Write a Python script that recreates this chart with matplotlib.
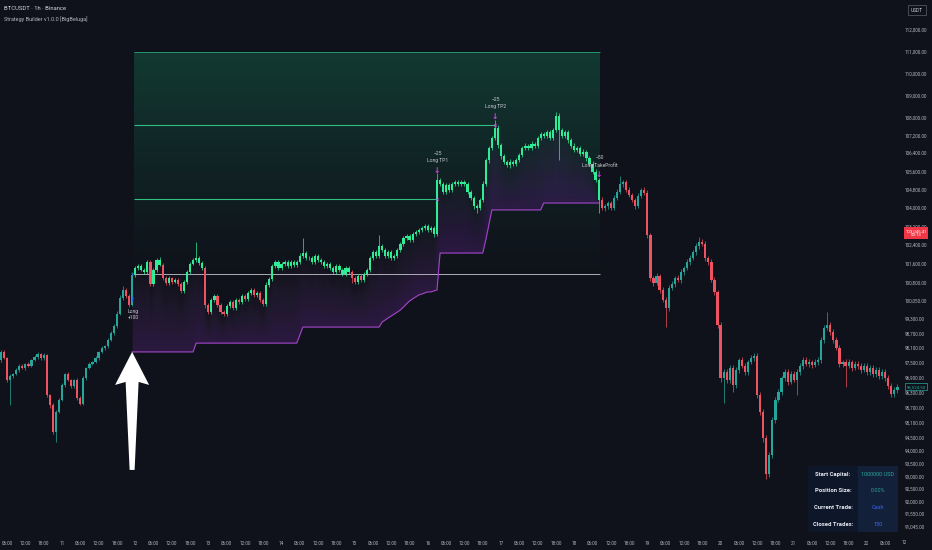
import numpy as np
import matplotlib
matplotlib.use('Agg')
import matplotlib.pyplot as plt
import matplotlib.transforms as mtransforms
from matplotlib.patches import Polygon, Rectangle
from matplotlib.ticker import NullLocator

plt.rcParams['font.family'] = ['Roboto', 'DejaVu Sans']

# BTCUSDT 1h, hours counted from day 10 00:00, first bar = 04:00
first_hour = 4
first_open = 97610
closes = [
    97940, 97690, 96800, 96960, 97040, 97210, 97370, 97290, 97450, 97370,
    97610, 97730, 97860, 97690, 97810, 96200, 95800, 94730, 95520, 96000,
    96600, 97040, 96800, 96560, 96800, 96080, 95840, 96880, 97290, 97450,
    97530, 97690, 97940, 98100, 98180, 98430, 98720, 99010, 99500, 100170,
    100500, 100250, 99880, 101130, 101430, 101510, 101340, 101260, 101680, 100750,
    101340, 101770, 101550, 101000, 100790, 101000, 100840, 100920, 100750, 100460,
    100840, 101260, 101600, 101770, 101850, 101640, 101430, 99880, 99580, 100080,
    100250, 99880, 99580, 99500, 99830, 100000, 99750, 100080, 100000, 100250,
    100130, 100380, 100500, 100290, 100380, 100080, 99920, 100710, 100960, 101510,
    101680, 101430, 101600, 101680, 101510, 101680, 101550, 101680, 101940, 102060,
    101850, 101850, 101680, 101940, 101770, 101680, 101510, 101600, 101430, 101260,
    101510, 101340, 101170, 101430, 101260, 101000, 100840, 101090, 100920, 101170,
    101340, 101850, 102100, 101940, 102360, 102190, 101940, 102100, 101850, 101940,
    102190, 102450, 102700, 102790, 102620, 102870, 102960, 103050, 103130, 103220,
    103050, 103130, 102870, 105210, 105040, 104690, 105000, 104780, 105040, 105130,
    105040, 105130, 105040, 104690, 104430, 104080, 103990, 104340, 105040, 106090,
    106630, 107070, 107520, 106760, 106270, 106010, 105870, 106010, 105920, 106090,
    106320, 106630, 106720, 106630, 106800, 106720, 107070, 107250, 107160, 107340,
    107070, 107430, 108060, 107430, 107160, 107340, 106980, 106720, 106540, 106630,
    106360, 106450, 106180, 105920, 105570, 105210, 104340, 103990, 104080, 104210,
    103990, 104430, 104690, 105040, 105130, 104780, 104560, 104340, 104080, 104520,
    104780, 104650, 102830, 101000, 100790, 101090, 100500, 100080, 99750, 100590,
    100750, 101000, 100920, 101260, 101430, 101680, 101850, 102100, 102360, 102530,
    102450, 101850, 101680, 100920, 100420, 99050, 96880, 97130, 96800, 97290,
    96600, 97210, 97610, 97370, 97130, 97530, 97690, 97770, 96200, 95520,
    94490, 93080, 93820, 95200, 96000, 96320, 96880, 97130, 96720, 97040,
    96800, 97130, 97370, 97610, 97450, 97530, 97410, 97530, 97610, 98430,
    98920, 99050, 98760, 98430, 98100, 97450, 97530, 97370, 97530, 97290,
    97450, 97370, 97210, 97370, 97130, 97290, 97040, 97210, 96960, 97130,
    96880, 96560, 96240, 96400, 96520,
]
upper_wick = [
    60, 80, 40, 90, 50, 70, 60, 80, 50, 60,
    50, 70, 60, 40, 80, 60, 50, 90, 70, 60,
    80, 60, 70, 50, 60, 90, 60, 80, 50, 70,
    60, 70, 50, 80, 60, 70, 90, 60, 120, 100,
    150, 80, 70, 120, 90, 80, 100, 70, 90, 100,
    80, 100, 120, 70, 80, 90, 60, 80, 70, 90,
    70, 90, 80, 100, 680, 90, 80, 100, 70, 90,
    80, 70, 90, 100, 80, 70, 90, 80, 100, 70,
    80, 90, 70, 100, 80, 90, 70, 120, 80, 100,
    90, 80, 70, 100, 80, 90, 70, 80, 120, 640,
    90, 80, 100, 70, 90, 80, 100, 70, 90, 80,
    80, 90, 70, 100, 80, 90, 70, 80, 90, 70,
    90, 80, 100, 70, 470, 90, 80, 100, 90, 80,
    90, 100, 80, 90, 100, 80, 90, 100, 80, 90,
    100, 90, 100, 310, 100, 90, 80, 100, 90, 100,
    90, 100, 80, 90, 100, 90, 80, 100, 120, 110,
    100, 110, 360, 120, 100, 90, 100, 110, 90, 100,
    100, 90, 110, 100, 120, 90, 100, 110, 100, 90,
    110, 100, 180, 120, 100, 110, 100, 90, 110, 100,
    100, 110, 100, 90, 110, 120, 100, 110, 100, 90,
    100, 110, 120, 350, 100, 90, 110, 100, 90, 110,
    100, 120, 110, 100, 90, 110, 100, 120, 110, 100,
    110, 100, 120, 110, 100, 110, 120, 100, 110, 210,
    120, 110, 100, 120, 110, 100, 120, 110, 130, 120,
    110, 120, 100, 110, 120, 100, 110, 120, 110, 100,
    120, 110, 130, 120, 110, 120, 100, 110, 120, 110,
    110, 120, 100, 110, 120, 110, 100, 120, 110, 120,
    120, 540, 110, 100, 120, 110, 100, 120, 110, 100,
    110, 100, 120, 110, 100, 120, 110, 100, 120, 110,
    110, 120, 100, 110, 120,
]
lower_wick = [
    80, 50, 60, 1000, 70, 50, 90, 60, 70, 50,
    60, 50, 80, 60, 70, 90, 120, 80, 400, 60,
    60, 80, 50, 70, 90, 100, 60, 50, 70, 60,
    50, 60, 70, 50, 80, 60, 50, 70, 90, 60,
    90, 80, 100, 60, 70, 80, 60, 90, 70, 80,
    70, 80, 60, 90, 70, 80, 90, 60, 100, 80,
    80, 70, 90, 60, 70, 80, 100, 120, 90, 80,
    90, 100, 80, 70, 90, 80, 100, 70, 80, 90,
    70, 80, 90, 70, 80, 100, 80, 90, 70, 80,
    80, 70, 90, 80, 70, 90, 80, 70, 80, 90,
    80, 90, 70, 100, 80, 90, 70, 80, 100, 90,
    90, 80, 100, 90, 80, 200, 90, 80, 100, 90,
    80, 90, 80, 100, 90, 80, 100, 90, 80, 100,
    80, 90, 100, 80, 90, 100, 80, 90, 100, 80,
    90, 100, 120, 90, 100, 90, 100, 80, 90, 100,
    100, 90, 100, 110, 90, 120, 220, 100, 90, 110,
    110, 100, 90, 120, 110, 100, 90, 110, 100, 90,
    100, 110, 90, 100, 110, 100, 90, 110, 100, 110,
    100, 110, 100, 1340, 110, 100, 120, 110, 100, 110,
    110, 100, 120, 110, 100, 90, 560, 100, 120, 110,
    100, 90, 110, 100, 120, 110, 100, 90, 110, 100,
    110, 100, 120, 140, 110, 100, 120, 100, 800, 110,
    100, 110, 100, 120, 110, 100, 110, 100, 120, 110,
    110, 120, 110, 100, 120, 130, 140, 1000, 120, 110,
    300, 110, 120, 100, 110, 120, 100, 110, 120, 130,
    140, 200, 120, 110, 120, 100, 110, 120, 110, 100,
    100, 600, 120, 110, 100, 120, 110, 100, 120, 110,
    110, 100, 120, 110, 100, 120, 110, 850, 100, 110,
    100, 120, 110, 100, 120, 110, 100, 120, 110, 100,
    120, 110, 130, 120, 110,
]

# strategy: one long trade
entry_hour = 47
tp1_hour = 147
tp2_hour = 166
exit_hour = 200
entry_price = 101170
tp1_price = 104380
tp2_price = 107650
tp3_price = 110980
stop_change_hours = [47, 68, 102, 103, 129, 130, 131, 132, 133, 134, 135, 136, 137, 138,
                     139, 140, 141, 142, 143, 144, 146, 147, 148, 163, 164, 165, 182]
stop_change_values = [97940, 98300, 98630, 98960, 99170, 99250, 99340, 99420, 99500, 99580,
                      99670, 99790, 99920, 100040, 100130, 100210, 100290, 100330, 100380,
                      100420, 100460, 100500, 102060, 102620, 103260, 103910, 104210]
trade_hours = [47, 147, 166, 200]
trade_names = ['Long', 'Long TP1', 'Long TP2', 'Long TakeProfit']
trade_qty = ['+100', '-25', '-25', '-50']

price_ticks = [112000, 111000, 110000, 109000, 108000, 107200, 106400, 105600, 104800, 104000,
               103200, 102400, 101600, 100800, 100050, 99300, 98700, 98100, 97500, 96900,
               96300, 95700, 95100, 94500, 94000, 93500, 93000, 92500, 92000, 91550, 91045]
current_price = 103045.41
countdown = '00:13'
last_price = 96524.50

table_labels = ['Start Capital:', 'Position Size:', 'Current Trade:', 'Closed Trades:']
table_values = ['1000000 USD', '0.00%', 'Cash', '150']

BG = '#0f121a'
TEAL = '#26a69a'
RED = '#ef5361'
BRIGHT = '#31ec97'
PURPLE = '#b04bd8'
GREY = '#b2b5be'

fig = plt.figure(figsize=(9.32, 5.5), dpi=100, facecolor=BG)
ax = fig.add_axes([0, 15 / 550, 900 / 932, 535 / 550], facecolor=BG)
ax.set_yscale('log')
ax.set_xlim(3.67, 298.85)
ax.set_ylim(90746, 113409)
for s in ax.spines.values():
    s.set_visible(False)

hours = np.arange(first_hour, first_hour + len(closes))
c = np.array(closes, float)
o = np.r_[first_open, c[:-1]]
hi = np.maximum(o, c) + np.array(upper_wick)
lo = np.minimum(o, c) - np.array(lower_wick)

in_trade = (hours > entry_hour) & (hours <= exit_hour)
down = c < o
colors = np.where(in_trade,
                  np.where(down & (c < entry_price), RED, BRIGHT),
                  np.where(down, RED, TEAL))

# take profit zone
e0 = entry_hour + 0.5
e1 = exit_hour + 0.5
levels = np.geomspace(entry_price, tp3_price, 41)
for i in range(40):
    ax.fill_between([e0, e1], levels[i], levels[i + 1], color='#1a9e70',
                    alpha=0.28 * ((i + 1) / 40) ** 1.2, lw=0, zorder=1)
ax.hlines(tp3_price, e0, e1, color='#22946c', lw=0.7, zorder=2)
ax.hlines(tp2_price, e0, tp2_hour, color='#2fbf7e', lw=0.8, zorder=2)
ax.hlines(tp1_price, e0, tp1_hour, color='#2fbf7e', lw=0.8, zorder=2)
ax.hlines(entry_price, e0, e1, color='#c4c6ce', lw=0.6, zorder=2)

# trailing stop
th = np.arange(entry_hour, exit_hour + 1)
stop_idx = np.searchsorted(stop_change_hours, th, side='right') - 1
stop = np.array(stop_change_values, float)[stop_idx]
cl = c[(hours >= entry_hour) & (hours <= exit_hour)]
for k in range(1, 13):
    ax.fill_between(th, stop, stop + (cl - stop) * k / 12, color=PURPLE,
                    alpha=0.018, lw=0, zorder=1.5)
ax.plot(th, stop, color='#a247c8', lw=0.8, zorder=2)

# candles
ax.vlines(hours, lo, hi, colors=colors, lw=0.5, zorder=3)
body_lo = np.minimum(o, c)
body_h = np.maximum(np.abs(c - o), 15)
ax.bar(hours, body_h, bottom=body_lo, width=0.72, color=colors, lw=0, zorder=3)

# trade labels
ti = [int(h - first_hour) for h in trade_hours]
ax.annotate('\u2191', (trade_hours[0], lo[ti[0]]), xytext=(0, 6), textcoords='offset pixels',
            ha='center', va='center', fontsize=4.8, color='#2962ff', fontweight='bold', zorder=5)
ax.annotate(trade_names[0], (trade_hours[0], lo[ti[0]]), xytext=(1, -5), textcoords='offset pixels',
            ha='center', va='center', fontsize=3.6, color='#c8cad0', zorder=5)
ax.annotate(trade_qty[0], (trade_hours[0], lo[ti[0]]), xytext=(1, -11), textcoords='offset pixels',
            ha='center', va='center', fontsize=3.6, color='#c8cad0', zorder=5)
for h, i, name, q in zip(trade_hours[1:], ti[1:], trade_names[1:], trade_qty[1:]):
    ax.annotate('\u2193', (h, hi[i]), xytext=(0, 3), textcoords='offset pixels',
                ha='center', va='center', fontsize=5.5, color='#d946ef', fontweight='bold', zorder=5)
    ax.annotate(name, (h, hi[i]), xytext=(1, 13), textcoords='offset pixels',
                ha='center', va='center', fontsize=3.6, color='#c8cad0', zorder=5)
    ax.annotate(q.replace('-', '\u2212'), (h, hi[i]), xytext=(1, 20), textcoords='offset pixels',
                ha='center', va='center', fontsize=3.6, color='#c8cad0', zorder=5)
ax.scatter([entry_hour], [entry_price], marker='x', s=3, color='#2962ff', lw=0.5, zorder=5)
ax.scatter([tp1_hour, tp2_hour], [tp1_price, tp2_price], marker='x', s=3, color='#d946ef', lw=0.5, zorder=5)

# big white arrow pointing at the entry
arrow_px = [(0, 0), (17, -33), (6.5, -30), (2.5, -118), (-2.5, -118), (-6.5, -30), (-17, -33)]
tr = mtransforms.ScaledTranslation(entry_hour, stop[0], ax.transData)
ax.add_patch(Polygon(arrow_px, closed=True, transform=tr, fc='white', ec='none', zorder=6))

# axes
ax.set_yticks(price_ticks)
ax.set_yticklabels(['{:,.2f}'.format(v) for v in price_ticks])
ax.yaxis.set_minor_locator(NullLocator())
ax.yaxis.tick_right()
ax.tick_params(axis='y', length=0, pad=3.6, labelsize=3.3, labelcolor=GREY)

xt = list(range(6, 297, 6))
xl = [str(10 + h // 24) if h % 24 == 0 else '%02d:00' % (h % 24) for h in xt]
ax.set_xticks(xt)
ax.set_xticklabels(xl)
ax.tick_params(axis='x', length=0, pad=4.3, labelsize=3.3, labelcolor=GREY)
fig.text(902 / 932, 1 - 543 / 550, '12', ha='left', va='center', fontsize=3.3, color=GREY)

ax.annotate('{:,.2f}\n{}'.format(current_price, countdown), (1, current_price),
            xycoords=ax.get_yaxis_transform(), xytext=(16, -3), textcoords='offset pixels',
            ha='center', va='center', fontsize=3.2, color='white', linespacing=1.1,
            bbox=dict(boxstyle='square,pad=0.35', fc='#f23645', ec='none'),
            annotation_clip=False, zorder=10)
ax.annotate('{:,.2f}'.format(last_price), (1, last_price),
            xycoords=ax.get_yaxis_transform(), xytext=(16, 0), textcoords='offset pixels',
            ha='center', va='center', fontsize=3.2, color=TEAL,
            bbox=dict(boxstyle='square,pad=0.35', fc=BG, ec=TEAL, lw=0.5),
            annotation_clip=False, zorder=10)

fig.text(917 / 932, 1 - 10 / 550, 'USDT', ha='center', va='center', fontsize=3.4, color='#d1d4dc',
         bbox=dict(boxstyle='square,pad=0.6', fc=BG, ec='#50535e', lw=0.6))

fig.text(4 / 932, 1 - 8 / 550, 'BTCUSDT \u00b7 1h \u00b7 Binance', ha='left', va='center',
         fontsize=4.2, color='#d1d4dc')
fig.text(4 / 932, 1 - 19 / 550, 'Strategy Builder v1.0.0 [BigBeluga]', ha='left', va='center',
         fontsize=4.0, color=GREY)

# stats table
value_colors = [TEAL, TEAL, '#3a66f5', '#3a66f5']
for i, (lab, val) in enumerate(zip(table_labels, table_values)):
    top = 466 + i * 16.5
    fig.add_artist(Rectangle((808 / 932, 1 - (top + 16.5) / 550), 50 / 932, 16.5 / 550,
                             transform=fig.transFigure, fc='#0e1729', ec='none'))
    fig.add_artist(Rectangle((858 / 932, 1 - (top + 16.5) / 550), 40 / 932, 16.5 / 550,
                             transform=fig.transFigure, fc='#13203a', ec='none'))
    fig.text(833 / 932, 1 - (top + 8.5) / 550, lab, ha='center', va='center', fontsize=4.2,
             color='#e6e8ee', fontweight='bold')
    fig.text(878 / 932, 1 - (top + 8.5) / 550, val, ha='center', va='center', fontsize=4.0,
             color=value_colors[i])

fig.savefig('out.png', dpi=100, facecolor=BG)
